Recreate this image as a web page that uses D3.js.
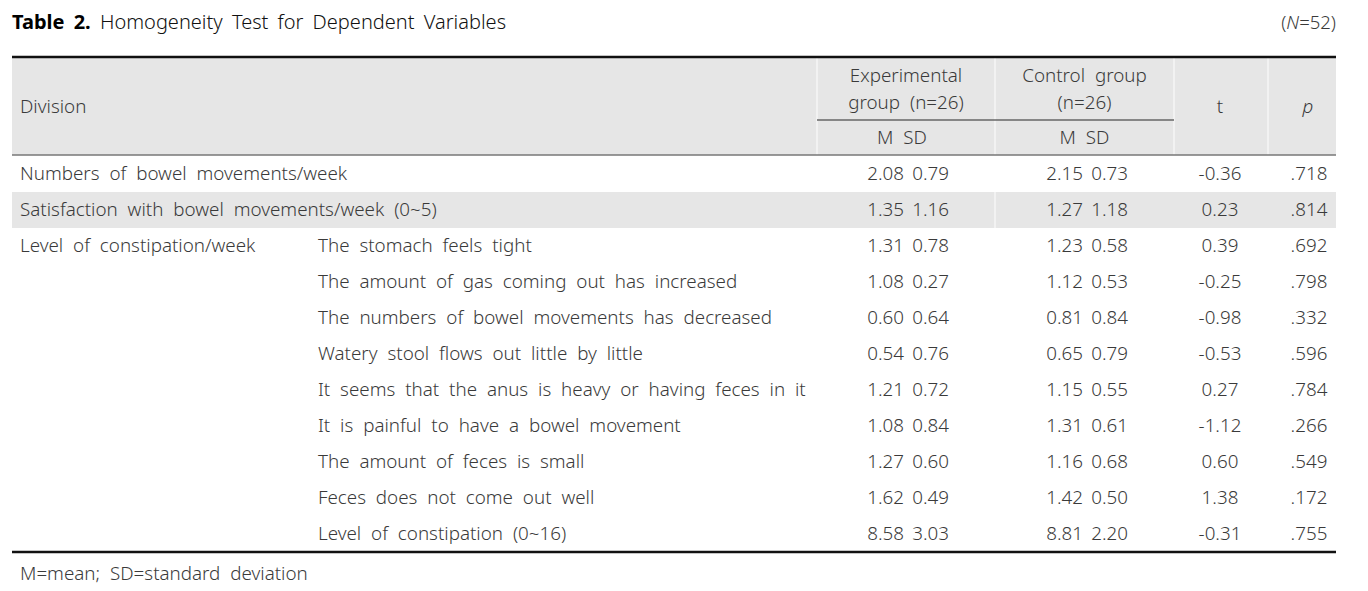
<!DOCTYPE html>
<html lang="en">
<head>
<meta charset="utf-8">
<title>Table 2</title>
<script src="https://cdn.jsdelivr.net/npm/d3@7/dist/d3.min.js"></script>
<style>
  body { margin: 0; background: #fff; }
  svg text { font-family: "Noto Sans", sans-serif; fill: #3a3a3a; font-weight: 300; }
</style>
</head>
<body>
<div id="table"></div>
<script>
// table content
const divisions = ["Numbers of bowel movements/week", "Satisfaction with bowel movements/week (0~5)",
  "Level of constipation/week", "", "", "", "", "", "", "", ""];
const items = ["", "", "The stomach feels tight", "The amount of gas coming out has increased",
  "The numbers of bowel movements has decreased", "Watery stool flows out little by little",
  "It seems that the anus is heavy or having feces in it", "It is painful to have a bowel movement",
  "The amount of feces is small", "Feces does not come out well", "Level of constipation (0~16)"];
const expM  = ["2.08", "1.35", "1.31", "1.08", "0.60", "0.54", "1.21", "1.08", "1.27", "1.62", "8.58"];
const expSD = ["0.79", "1.16", "0.78", "0.27", "0.64", "0.76", "0.72", "0.84", "0.60", "0.49", "3.03"];
const ctlM  = ["2.15", "1.27", "1.23", "1.12", "0.81", "0.65", "1.15", "1.31", "1.16", "1.42", "8.81"];
const ctlSD = ["0.73", "1.18", "0.58", "0.53", "0.84", "0.79", "0.55", "0.61", "0.68", "0.50", "2.20"];
const tVals = ["-0.36", "0.23", "0.39", "-0.25", "-0.98", "-0.53", "0.27", "-1.12", "0.60", "1.38", "-0.31"];
const pVals = [".718", ".814", ".692", ".798", ".332", ".596", ".784", ".266", ".549", ".172", ".755"];
const shadedRows = [1];

const W = 1368, H = 591;
const left = 12, right = 1336;
const fs = 18.8, ws = 5;

const svg = d3.select("#table").append("svg")
  .attr("width", W).attr("height", H);

// column edges (white separators in header) and text anchors
const colEdge = d3.scaleOrdinal()
  .domain(["exp", "ctl", "t", "p", "end"])
  .range([817, 995, 1174, 1268, right]);
const colX = d3.scaleOrdinal()
  .domain(["div", "item", "expM", "expSD", "ctlM", "ctlSD", "t", "p"])
  .range([20, 318, 904, 949, 1083, 1128, 1220, 1309]);

const headTop = 57, headBottom = 155;
const y = d3.scaleBand()
  .domain(d3.range(items.length))
  .range([headBottom + 1, 552])
  .paddingInner(0);

// title
const title = svg.append("text").attr("x", left).attr("y", 29)
  .attr("font-size", 20).style("word-spacing", "4px");
title.append("tspan").style("fill", "#000").style("font-weight", "bold").text("Table 2.");
title.append("tspan").style("fill", "#111").text(" Homogeneity Test for Dependent Variables");

const nTxt = svg.append("text").attr("x", right).attr("y", 29)
  .attr("font-size", 18.5).attr("text-anchor", "end");
nTxt.append("tspan").text("(");
nTxt.append("tspan").attr("font-style", "italic").text("N");
nTxt.append("tspan").text("=52)");

// header background + separators
svg.append("rect").attr("x", left).attr("y", headTop)
  .attr("width", right - left).attr("height", headBottom - headTop).attr("fill", "#e6e6e6");
["exp", "ctl", "t", "p"].forEach(k => {
  svg.append("line").attr("x1", colEdge(k)).attr("x2", colEdge(k))
    .attr("y1", headTop).attr("y2", headBottom)
    .attr("stroke", "#fafafa").attr("stroke-width", 1.2);
});

// shaded body rows
svg.selectAll("rect.shade").data(shadedRows).enter().append("rect")
  .attr("class", "shade")
  .attr("x", left).attr("width", right - left)
  .attr("y", d => y(d)).attr("height", y.bandwidth())
  .attr("fill", "#e6e6e6");
svg.selectAll("line.sep").data(shadedRows).enter().append("line")
  .attr("class", "sep")
  .attr("x1", colEdge("ctl")).attr("x2", colEdge("ctl"))
  .attr("y1", d => y(d)).attr("y2", d => y(d) + y.bandwidth())
  .attr("stroke", "#fafafa").attr("stroke-width", 1.2);

// rules
svg.append("line").attr("x1", left).attr("x2", right).attr("y1", headTop).attr("y2", headTop)
  .attr("stroke", "#111").attr("stroke-width", 2.6);
svg.append("line").attr("x1", colEdge("exp")).attr("x2", colEdge("t")).attr("y1", 120).attr("y2", 120)
  .attr("stroke", "#666").attr("stroke-width", 1.3);
svg.append("line").attr("x1", left).attr("x2", right).attr("y1", headBottom).attr("y2", headBottom)
  .attr("stroke", "#777").attr("stroke-width", 1.5);
svg.append("line").attr("x1", left).attr("x2", right).attr("y1", y.range()[1]).attr("y2", y.range()[1])
  .attr("stroke", "#111").attr("stroke-width", 2.6);

// header text
function label(x, yy, txt, anchor, italic) {
  return svg.append("text").attr("x", x).attr("y", yy)
    .attr("font-size", fs).attr("text-anchor", anchor || "middle")
    .attr("font-style", italic ? "italic" : null)
    .style("word-spacing", ws + "px").text(txt);
}
const expC = (colEdge("exp") + colEdge("ctl")) / 2;
const ctlC = (colEdge("ctl") + colEdge("t")) / 2;
label(colX("div"), 113, "Division", "start");
label(expC, 82, "Experimental");
label(expC, 109, "group (n=26)");
label(ctlC, 82, "Control group");
label(ctlC, 109, "(n=26)");
label(expC - 4, 144, "M  SD");
label(ctlC, 144, "M  SD");
label(colX("t"), 113, "t");
label(1308, 113, "p", "middle", true);

// body
const rows = items.map((d, i) => ({
  div: divisions[i], item: d, expM: expM[i], expSD: expSD[i],
  ctlM: ctlM[i], ctlSD: ctlSD[i], t: tVals[i], p: pVals[i]
}));
const cols = [
  { key: "div", anchor: "start" }, { key: "item", anchor: "start" },
  { key: "expM", anchor: "end" }, { key: "expSD", anchor: "end" },
  { key: "ctlM", anchor: "end" }, { key: "ctlSD", anchor: "end" },
  { key: "t", anchor: "middle" }, { key: "p", anchor: "middle" }
];
const g = svg.selectAll("g.row").data(rows).enter().append("g")
  .attr("class", "row")
  .attr("transform", (d, i) => `translate(0,${y(i) + y.bandwidth() / 2 + 6})`);
cols.forEach(c => {
  g.append("text")
    .attr("x", colX(c.key)).attr("text-anchor", c.anchor)
    .attr("font-size", fs).style("word-spacing", ws + "px")
    .text(d => d[c.key]);
});

// footnote
label(left + 8, 580, "M=mean; SD=standard deviation", "start");
</script>
</body>
</html>
